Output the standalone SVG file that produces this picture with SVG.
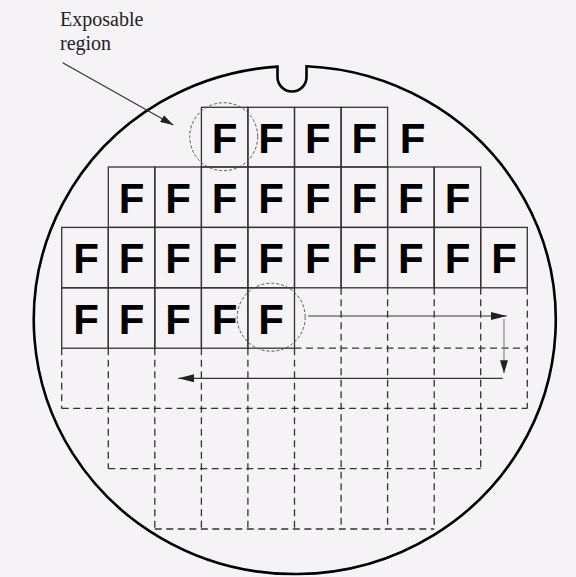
<svg xmlns="http://www.w3.org/2000/svg" width="576" height="577" viewBox="0 0 576 577">
<style>
.bg{fill:#f6f3f6}
.wafer{fill:none;stroke:#000;stroke-width:2.6}
.cell{fill:none;stroke:#333;stroke-width:1.3}
.f{font-family:"Liberation Sans",Arial,sans-serif;font-weight:bold;font-size:42px;fill:#000;text-anchor:middle}
.dash{fill:none;stroke:#333;stroke-width:1.3;stroke-dasharray:7,4.5}
.ring{fill:none;stroke:#555;stroke-width:1;stroke-dasharray:3,2}
.arr{fill:none;stroke:#333;stroke-width:1.2}
.label{font-family:"Liberation Serif","Times New Roman",serif;font-size:20px;fill:#222}
</style>
<defs>
<marker id="ah" viewBox="0 0 16 8" refX="16" refY="4" markerWidth="16" markerHeight="8" markerUnits="userSpaceOnUse" orient="auto"><path d="M0,0 L16,4 L0,8 z" fill="#222"/></marker>
<marker id="ahs" viewBox="0 0 13 8" refX="13" refY="4" markerWidth="13" markerHeight="8" markerUnits="userSpaceOnUse" orient="auto"><path d="M0,0 L13,4 L0,8 z" fill="#222"/></marker>
</defs>
<rect class="bg" x="0" y="0" width="576" height="577"/>

<g id="wafer">
<path class="wafer" d="M306.5,66.3 L306.5,77 A14.5,14.5 0 0 1 277.5,77 L277.5,66.6 A261,254 0 1 0 306.5,66.3 Z"/>
</g>

<g id="label">
<text class="label" x="60" y="26">Exposable</text>
<text class="label" x="60" y="50">region</text>
</g>

<!-- row 0 -->
<g id="r0c3"><rect class="cell" x="201.4" y="107.3" width="46.5" height="59.7"/><text class="f" x="224.7" y="153.3">F</text></g>
<g id="r0c4"><rect class="cell" x="247.9" y="107.3" width="46.6" height="59.7"/><text class="f" x="271.2" y="153.3">F</text></g>
<g id="r0c5"><rect class="cell" x="294.5" y="107.3" width="46.6" height="59.7"/><text class="f" x="317.8" y="153.3">F</text></g>
<g id="r0c6"><rect class="cell" x="341.1" y="107.3" width="46.5" height="59.7"/><text class="f" x="364.4" y="153.3">F</text></g>
<g id="r0c7"><text class="f" x="412.5" y="153.3">F</text></g>

<!-- row 1 -->
<g id="r1c1"><rect class="cell" x="108.3" y="167" width="46.5" height="60.4"/><text class="f" x="131.6" y="213">F</text></g>
<g id="r1c2"><rect class="cell" x="154.8" y="167" width="46.6" height="60.4"/><text class="f" x="178.1" y="213">F</text></g>
<g id="r1c3"><rect class="cell" x="201.4" y="167" width="46.5" height="60.4"/><text class="f" x="224.7" y="213">F</text></g>
<g id="r1c4"><rect class="cell" x="247.9" y="167" width="46.6" height="60.4"/><text class="f" x="271.2" y="213">F</text></g>
<g id="r1c5"><rect class="cell" x="294.5" y="167" width="46.6" height="60.4"/><text class="f" x="317.8" y="213">F</text></g>
<g id="r1c6"><rect class="cell" x="341.1" y="167" width="46.5" height="60.4"/><text class="f" x="364.4" y="213">F</text></g>
<g id="r1c7"><rect class="cell" x="387.6" y="167" width="46.6" height="60.4"/><text class="f" x="410.9" y="213">F</text></g>
<g id="r1c8"><rect class="cell" x="434.2" y="167" width="46.5" height="60.4"/><text class="f" x="457.5" y="213">F</text></g>

<!-- row 2 -->
<g id="r2c0"><rect class="cell" x="61.7" y="227.4" width="46.6" height="60.4"/><text class="f" x="86" y="273.4">F</text></g>
<g id="r2c1"><rect class="cell" x="108.3" y="227.4" width="46.5" height="60.4"/><text class="f" x="131.6" y="273.4">F</text></g>
<g id="r2c2"><rect class="cell" x="154.8" y="227.4" width="46.6" height="60.4"/><text class="f" x="178.1" y="273.4">F</text></g>
<g id="r2c3"><rect class="cell" x="201.4" y="227.4" width="46.5" height="60.4"/><text class="f" x="224.7" y="273.4">F</text></g>
<g id="r2c4"><rect class="cell" x="247.9" y="227.4" width="46.6" height="60.4"/><text class="f" x="271.2" y="273.4">F</text></g>
<g id="r2c5"><rect class="cell" x="294.5" y="227.4" width="46.6" height="60.4"/><text class="f" x="317.8" y="273.4">F</text></g>
<g id="r2c6"><rect class="cell" x="341.1" y="227.4" width="46.5" height="60.4"/><text class="f" x="364.4" y="273.4">F</text></g>
<g id="r2c7"><rect class="cell" x="387.6" y="227.4" width="46.6" height="60.4"/><text class="f" x="410.9" y="273.4">F</text></g>
<g id="r2c8"><rect class="cell" x="434.2" y="227.4" width="46.5" height="60.4"/><text class="f" x="457.5" y="273.4">F</text></g>
<g id="r2c9"><rect class="cell" x="480.7" y="227.4" width="46.6" height="60.4"/><text class="f" x="504" y="273.4">F</text></g>

<!-- row 3 -->
<g id="r3c0"><rect class="cell" x="61.7" y="287.8" width="46.6" height="60.4"/><text class="f" x="86" y="333.8">F</text></g>
<g id="r3c1"><rect class="cell" x="108.3" y="287.8" width="46.5" height="60.4"/><text class="f" x="131.6" y="333.8">F</text></g>
<g id="r3c2"><rect class="cell" x="154.8" y="287.8" width="46.6" height="60.4"/><text class="f" x="178.1" y="333.8">F</text></g>
<g id="r3c3"><rect class="cell" x="201.4" y="287.8" width="46.5" height="60.4"/><text class="f" x="224.7" y="333.8">F</text></g>
<g id="r3c4"><rect class="cell" x="247.9" y="287.8" width="46.6" height="60.4"/><text class="f" x="271.2" y="333.8">F</text></g>

<g id="future-fields">
<path class="dash" d="M294.5,348.2 H527.3 M61.7,408.4 H527.3 M108.3,468.7 H480.7 M154.8,529 H434.2"/>
<path class="dash" d="M61.7,348.2 V408.4 M108.3,348.2 V468.7 M154.8,348.2 V529 M201.4,348.2 V529 M247.9,348.2 V529 M294.5,348.2 V529 M341.1,287.8 V529 M387.6,287.8 V529 M434.2,287.8 V529 M480.7,287.8 V468.7 M527.3,287.8 V408.4"/>
</g>

<g id="connectors">
<circle class="ring" cx="223.7" cy="136.7" r="34"/>
<circle class="ring" cx="271.2" cy="317.2" r="34"/>
<line class="arr" x1="62.7" y1="62.7" x2="173.3" y2="125" marker-end="url(#ahs)"/>
<line class="arr" x1="308.3" y1="316" x2="506.7" y2="316" marker-end="url(#ah)"/>
<line class="arr" stroke="#777" style="stroke:#888" x1="504" y1="319" x2="504" y2="373.3" marker-end="url(#ahs)"/>
<line class="arr" x1="502.7" y1="378.3" x2="178.3" y2="378.3" marker-end="url(#ah)"/>
</g>
</svg>
